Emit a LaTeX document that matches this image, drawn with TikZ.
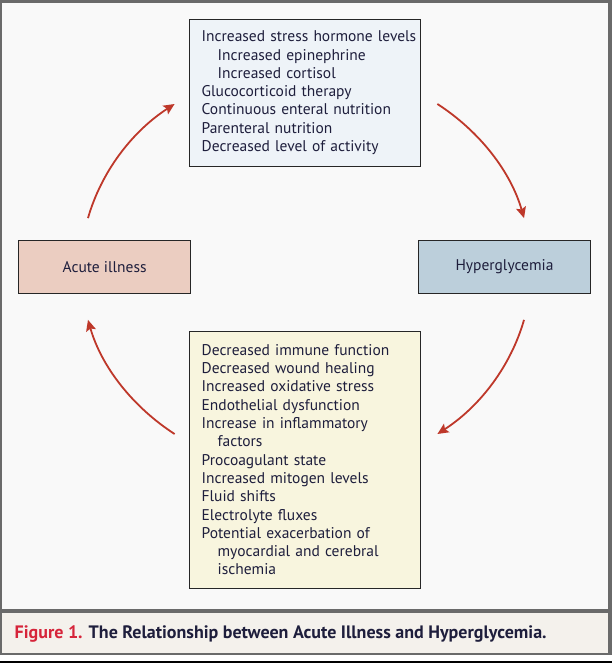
\documentclass[tikz,border=0pt]{standalone}
\usepackage{fontspec}
\setmainfont{PT Sans}
\usepackage{xcolor}
\usepackage{tikz}
\usetikzlibrary{arrows.meta,positioning}

\definecolor{ink}{RGB}{30,30,60}
\definecolor{arrowred}{RGB}{190,56,42}
\definecolor{figred}{RGB}{214,36,58}
\definecolor{framegray}{RGB}{106,106,106}
\definecolor{panelbg}{RGB}{249,249,249}
\definecolor{capbg}{RGB}{244,241,236}
\definecolor{causefill}{RGB}{238,243,248}
\definecolor{effectfill}{RGB}{248,245,222}
\definecolor{acutefill}{RGB}{235,205,193}
\definecolor{hyperfill}{RGB}{188,207,219}

\newcommand{\ind}{\hspace*{16pt}}

\tikzset{
  box/.style={draw=black!85, line width=1.2pt, text=ink, inner sep=0pt,
    font=\fontsize{15.5pt}{18.3pt}\selectfont},
  listbox/.style={box, text width=230.7pt, align=left,
    execute at begin node={\leftskip=12pt}},
  statebox/.style={box, minimum width=172.5pt, minimum height=52.6pt, align=center},
  cyc/.style={draw=arrowred, line width=1.8pt,
    -{Stealth[length=11pt,width=10pt,inset=2pt]}}
}

\begin{document}
\begin{tikzpicture}[x=1pt, y=1pt]
    % frame and panels
    \useasboundingbox (0,0) rectangle (612,663);
    \fill[white] (0,0) rectangle (612,663);
    \fill[framegray] (0,8) rectangle (612,663);
    \fill[panelbg] (1.5,54) rectangle (608,660.3);
    \fill[capbg] (1.5,10.3) rectangle (608,50.3);
    \fill[black] (0,0) rectangle (612,2.3);

    % the four boxes
    \node[listbox, fill=causefill, minimum height=147pt] (causes) at (305,570.2) {%
      Increased stress hormone levels\\
      \ind Increased epinephrine\\
      \ind Increased cortisol\\
      Glucocorticoid therapy\\
      Continuous enteral nutrition\\
      Parenteral nutrition\\
      Decreased level of activity};
    \node[statebox, fill=acutefill] (acute) at (104.6,396) {Acute illness};
    \node[statebox, fill=hyperfill] (hyper) at (504.5,396) {Hyperglycemia};
    \node[listbox, fill=effectfill, minimum height=257pt] (effects) at (305,203.2) {%
      Decreased immune function\\
      Decreased wound healing\\
      Increased oxidative stress\\
      Endothelial dysfunction\\
      Increase in inflammatory\\
      \ind factors\\
      Procoagulant state\\
      Increased mitogen levels\\
      Fluid shifts\\
      Electrolyte fluxes\\
      Potential exacerbation of\\
      \ind myocardial and cerebral\\
      \ind ischemia};

    % the cycle of arrows
    \coordinate (ring) at (306,394);
    \coordinate (acute-out) at ([shift={(165.5:225.2 and 203.2)}]ring);
    \coordinate (causes-out) at ([shift={(54.3:225.2 and 203.2)}]ring);
    \coordinate (hyper-out) at ([shift={(-14.5:225.2 and 203.2)}]ring);
    \coordinate (effects-out) at ([shift={(-125.7:225.2 and 203.2)}]ring);
    \draw[cyc] (acute-out) arc[start angle=165.5, end angle=125.7, x radius=225.2, y radius=203.2];
    \draw[cyc] (causes-out) arc[start angle=54.3, end angle=14.5, x radius=225.2, y radius=203.2];
    \draw[cyc] (hyper-out) arc[start angle=-14.5, end angle=-54.3, x radius=225.2, y radius=203.2];
    \draw[cyc] (effects-out) arc[start angle=-125.7, end angle=-165.5, x radius=225.2, y radius=203.2];

    % caption
    \node[anchor=base west, inner sep=0pt, font=\fontsize{18pt}{21pt}\selectfont\bfseries, text=ink]
      (caption) at (14.5,24.7) {\textcolor{figred}{Figure 1.} The Relationship between Acute Illness and Hyperglycemia.};
\end{tikzpicture}
\end{document}
